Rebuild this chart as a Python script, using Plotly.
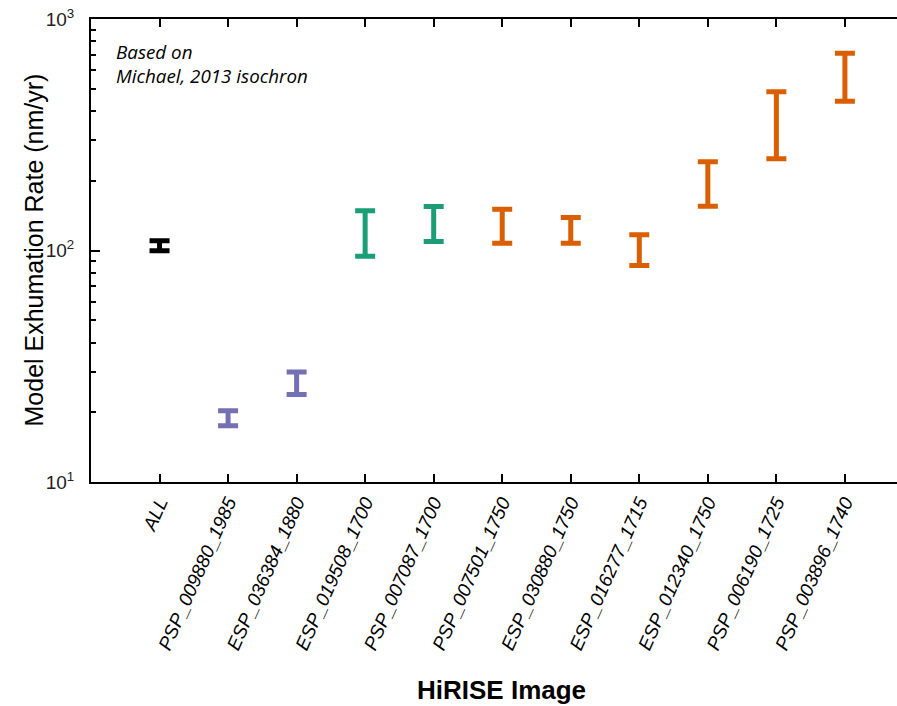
import plotly.graph_objects as go
import math

categories = ["ALL", "PSP_009880_1985", "ESP_036384_1880", "ESP_019508_1700",
              "PSP_007087_1700", "PSP_007501_1750", "ESP_030880_1750",
              "ESP_016277_1715", "ESP_012340_1750", "PSP_006190_1725",
              "PSP_003896_1740"]
lower = [99.7, 17.5, 23.9, 94.5, 109.4, 107.5, 107.5, 86.1, 155.4, 249.0, 441.4]
upper = [110.1, 20.3, 29.9, 148.4, 154.9, 150.8, 138.8, 116.9, 241.6, 484.9, 711.6]
groups = ["all", "purple", "purple", "green", "green", "orange", "orange",
          "orange", "orange", "orange", "orange"]
group_colors = {"all": "#000000", "purple": "#7570b3", "green": "#1b9e77", "orange": "#d95f02"}

fig = go.Figure()
for g, col in group_colors.items():
    idx = [i for i, gg in enumerate(groups) if gg == g]
    xs = idx
    mid = [math.sqrt(lower[i] * upper[i]) for i in idx]
    ep = [upper[i] - m for i, m in zip(idx, mid)]
    em = [m - lower[i] for i, m in zip(idx, mid)]
    fig.add_trace(go.Scatter(
        x=xs, y=mid, mode="markers",
        marker=dict(size=1, color="rgba(0,0,0,0)"),
        error_y=dict(type="data", symmetric=False, array=ep, arrayminus=em,
                     color=col, thickness=5, width=10),
        showlegend=False, hoverinfo="skip"))

L, T, B = 91, 19, 224
fig.update_layout(
    width=897, height=706,
    margin=dict(l=L, r=0, t=T, b=B),
    plot_bgcolor="white", paper_bgcolor="white",
    font=dict(family="Liberation Sans", color="#000"),
)
fig.update_xaxes(
    range=[-1, 10.76], automargin=False,
    tickmode="array", tickvals=list(range(len(categories))), ticktext=categories,
    tickangle=-66,
    tickfont=dict(family="Liberation Sans", size=19, color="#000", style="italic"),
    showline=True, linecolor="#000", linewidth=2, mirror="ticks",
    ticks="inside", ticklen=8, tickwidth=2, tickcolor="#000",
    showgrid=False, zeroline=False,
)
fig.update_yaxes(
    type="log", range=[1, 3], automargin=False,
    tickmode="array", tickvals=[10, 100, 1000],
    ticktext=["10<sup>1</sup>", "10<sup>2</sup>", "10<sup>3</sup>"],
    tickfont=dict(family="Liberation Sans", size=19, color="#222"),
    showline=True, linecolor="#000", linewidth=2, mirror=False,
    ticks="inside", ticklen=9, tickwidth=2, tickcolor="#000",
    ticklabelstandoff=11,
    minor=dict(ticks="inside", ticklen=5, tickwidth=2, tickcolor="#000",
               tickmode="array",
               tickvals=[20, 30, 40, 50, 60, 70, 80, 90, 200, 300, 400, 500, 600, 700, 800, 900],
               showgrid=False),
    showgrid=False, zeroline=False,
)
pw = 897 - L
fig.add_annotation(
    x=(33 - L) / pw, y=0.5, xref="paper", yref="paper", xanchor="center", yanchor="middle",
    text="Model Exhumation Rate (nm/yr)", textangle=-90, showarrow=False,
    font=dict(family="Liberation Sans", size=25, color="#000"),
)
fig.add_annotation(
    x=(114 - L) / pw, y=0.962, xref="paper", yref="paper", xanchor="left", yanchor="top",
    text="<i>Based on<br>Michael, 2013 isochron</i>", showarrow=False, align="left",
    font=dict(family="Open Sans", size=18.8, color="#000"),
)
fig.add_annotation(
    x=(501 - L) / pw, y=-0.45, xref="paper", yref="paper", xanchor="center", yanchor="middle",
    text="<b>HiRISE Image</b>", showarrow=False,
    font=dict(family="Liberation Sans", size=26, color="#000"),
)
fig.write_html("out.html", config={"displayModeBar": False},
               post_script="document.body.style.margin='0';")
